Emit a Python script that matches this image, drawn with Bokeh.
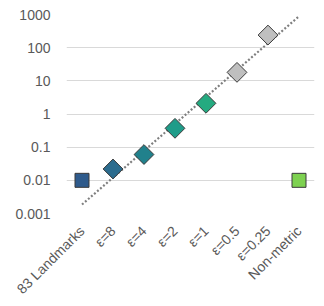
import numpy as np
from bokeh.plotting import figure
from bokeh.models import FixedTicker
from bokeh.embed import file_html
from bokeh.resources import INLINE

categories = ["83 Landmarks", "ε=8", "ε=4", "ε=2", "ε=1", "ε=0.5", "ε=0.25", "Non-metric"]
values = [0.01, 0.022, 0.06, 0.37, 2.1, 18, 240, 0.01]
markers = ["square", "diamond", "diamond", "diamond", "diamond", "diamond", "diamond", "square"]
colors = ["#2F5B8C", "#2C6C8E", "#21818C", "#1F9C89", "#24AA80", "#BFBFBF", "#BFBFBF", "#7DD150"]
tick_values = [0.001, 0.01, 0.1, 1, 10, 100, 1000]
tick_labels = ["0.001", "0.01", "0.1", "1", "10", "100", "1000"]

p = figure(x_range=categories, y_axis_type="log", y_range=(0.001, 1000),
           frame_width=248, frame_height=199, output_backend="svg", toolbar_location=None,
           min_border_left=66, min_border_top=14, min_border_right=8, min_border_bottom=10)
p.outline_line_color = None
p.background_fill_color = "white"

# trendline: exponential fit over the ε points, extended over the whole axis
xs_fit = np.arange(1, 7)
coef = np.polyfit(xs_fit, np.log10(values[1:7]), 1)
tx = np.array([0.0, 7.0])
ty = 10 ** np.polyval(coef, tx)
p.line(x=tx + 0.5, y=ty, line_color="#7F7F7F", line_width=2.2, line_dash="2 2")

sq_x = [c for c, m in zip(categories, markers) if m == "square"]
sq_y = [v for v, m in zip(values, markers) if m == "square"]
sq_c = [c for c, m in zip(colors, markers) if m == "square"]
di_x = [c for c, m in zip(categories, markers) if m == "diamond"]
di_y = [v for v, m in zip(values, markers) if m == "diamond"]
di_c = [c for c, m in zip(colors, markers) if m == "diamond"]

p.scatter(x=sq_x, y=sq_y, marker="square", size=14, fill_color=sq_c, line_color="#3A3A3A", line_width=1)
p.scatter(x=di_x, y=di_y, marker="square", angle=np.pi / 4, size=14, fill_color=di_c,
          line_color="#3A3A3A", line_width=1)

p.xgrid.grid_line_color = None
p.ygrid.grid_line_color = "#D9D9D9"
p.ygrid.grid_line_width = 1
p.yaxis.ticker = FixedTicker(ticks=tick_values, minor_ticks=[])
p.yaxis.major_label_overrides = {v: l for v, l in zip(tick_values, tick_labels)}

for ax in (p.xaxis[0], p.yaxis[0]):
    ax.axis_line_color = None
    ax.major_tick_line_color = None
    ax.minor_tick_line_color = None
    ax.major_label_text_color = "#595959"
    ax.major_label_text_font = "Liberation Sans"
    ax.major_label_text_font_size = "14px"
p.xaxis.major_label_orientation = np.pi / 4
p.yaxis.major_label_standoff = 10
p.xaxis.major_label_standoff = 9

open("out.html", "w").write(file_html(p, INLINE))
